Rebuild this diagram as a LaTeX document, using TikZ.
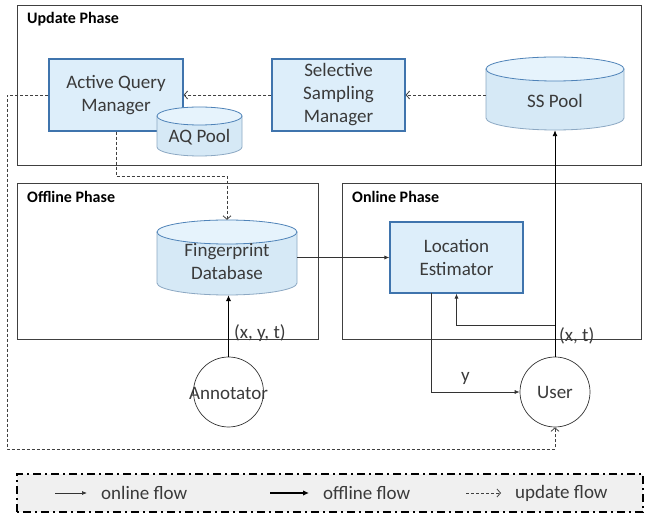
\documentclass[tikz,border=0pt]{standalone}
\usepackage{fontspec}
\setmainfont{Carlito}
\usetikzlibrary{arrows.meta}
\definecolor{boxfill}{HTML}{DDEEFA}
\definecolor{boxdraw}{HTML}{3F74AD}
\definecolor{cylfill}{HTML}{D6E9F6}
\definecolor{cyltop}{HTML}{E6F3FC}
\definecolor{cyldraw}{HTML}{8CA8C3}
\definecolor{cylrim}{HTML}{4F83B8}
\definecolor{txt}{HTML}{3A3A3A}
\definecolor{legfill}{HTML}{F0F0F0}
\begin{document}
\begin{tikzpicture}[x=1pt,y=1pt,
  phase/.style={draw=black!75, line width=0.8pt, fill=white},
  ptitle/.style={anchor=west, inner sep=0pt, font=\fontsize{16}{18}\selectfont\bfseries},
  proc/.style={draw=boxdraw, line width=1.2pt, fill=boxfill, align=center, text=txt,
    font=\fontsize{19}{23}\selectfont, inner sep=0pt},
  lbl/.style={text=txt, font=\fontsize{19}{23}\selectfont, inner sep=0pt, align=center},
  actor/.style={circle, draw=black!80, line width=0.7pt, fill=white, minimum size=70pt, inner sep=0pt,
    text=txt, font=\fontsize{19}{23}\selectfont},
  ghost/.style={inner sep=0pt, draw=none},
  onl/.style={draw=black!80, line width=0.7pt, -{Latex[length=5pt,width=4pt]}},
  offl/.style={draw=black, line width=1.6pt, -{Latex[length=6pt,width=5.5pt]}},
  upd/.style={draw=black!75, line width=0.7pt, dash pattern=on 3pt off 2pt},
  updtip/.style={-{Straight Barb[length=3.5pt,width=8pt,line width=0.8pt]}},
  cylbody/.style={fill=cylfill, draw=cyldraw, line width=0.8pt},
  cyltopst/.style={fill=cyltop, draw=cylrim, line width=0.8pt}
]
\useasboundingbox (0,0) rectangle (645,514);

% phase boxes
\draw[phase] (17,349) rectangle (641,509);
\draw[phase] (17,175) rectangle (318,331);
\draw[phase] (342,175) rectangle (641,331);
\node[ptitle] (tupd) at (27,495) {Update Phase};
\node[ptitle] (toff) at (27,317) {Offline Phase};
\node[ptitle] (ton) at (352,317) {Online Phase};

% process boxes
\node[proc, minimum width=134pt, minimum height=72pt] (aqm) at (116,419) {Active Query\\Manager};
\node[proc, minimum width=133pt, minimum height=72pt] (ssm) at (338.5,419) {Selective\\Sampling\\Manager};
\node[proc, minimum width=133pt, minimum height=71pt] (le) at (456.5,256.5) {Location\\Estimator};

% AQ Pool cylinder
\fill[cylfill] (157,398) -- (157,367) arc[start angle=180,end angle=360,x radius=42.5,y radius=9] -- (242,398) -- cycle;
\draw[cylbody, fill=none] (157,398) -- (157,367) arc[start angle=180,end angle=360,x radius=42.5,y radius=9] -- (242,398);
\draw[cyltopst] (199.5,398) ellipse[x radius=42.5,y radius=9];
\node[lbl] (aqpool) at (199.5,377) {AQ Pool};

% SS Pool cylinder
\fill[cylfill] (486,445) -- (486,396) arc[start angle=180,end angle=360,x radius=69,y radius=12] -- (624,445) -- cycle;
\draw[cylbody, fill=none] (486,445) -- (486,396) arc[start angle=180,end angle=360,x radius=69,y radius=12] -- (624,445);
\draw[cyltopst] (555,445) ellipse[x radius=69,y radius=12];
\node[ghost, minimum width=138pt, minimum height=73pt] (sspool) at (555,420.5) {};
\node[lbl] (sstext) at (555,413) {SS Pool};

% Fingerprint Database cylinder
\fill[cylfill] (157,282) -- (157,231) arc[start angle=180,end angle=360,x radius=70,y radius=12] -- (297,282) -- cycle;
\draw[cylbody, fill=none] (157,282) -- (157,231) arc[start angle=180,end angle=360,x radius=70,y radius=12] -- (297,282);
\draw[cyltopst] (227,282) ellipse[x radius=70,y radius=12];
\node[ghost, minimum width=140pt, minimum height=75pt] (db) at (227,256.5) {};
\node[lbl] (dbtext) at (227,252) {Fingerprint\\Database};

% actors
\node[actor] (ann) at (228.5,122) {};
\node[lbl] (anntext) at (228.5,121) {Annotator};
\node[actor] (user) at (555,122) {User};

% coordinates
\coordinate (t1) at (116,338);
\coordinate (l1) at (7,419);
\coordinate (l2) at (7,65);
\coordinate (br) at (555,189);
\coordinate (leout) at (431,221);

% update flow
\draw[upd, updtip] (sspool.west |- ssm.east) -- (ssm.east);
\draw[upd, updtip] (ssm.west) -- (aqm.east);
\draw[upd, updtip] (aqm.south) -- (t1) -| (db.north);
\draw[upd, updtip] (aqm.west) -- (l1) -- (l2) -| (user.south);

% online flow
\draw[onl] (db.east |- le.west) -- (le.west);
\draw[onl] (br) -| (le.south);
\draw[onl] (leout) |- (user.west);
\node[lbl, anchor=west] (ylbl) at (461,136) {y};

% offline / user to pool
\draw[offl] (ann.north) -- (ann.north |- db.south);
\draw[draw=black, line width=0.9pt, -{Latex[length=6pt,width=5pt]}] (user.north) -- (sspool.south);
\node[lbl, anchor=west] (xyt) at (234,181) {(x, y, t)};
\node[lbl, anchor=west] (xt) at (559,178) {(x, t)};

% legend
\draw[fill=legfill, draw=black, line width=2pt, dash pattern=on 8pt off 4pt on 2pt off 4pt] (17,2) rectangle (643,40);
\coordinate (a1s) at (55,21); \coordinate (a1e) at (87,21);
\coordinate (a2s) at (270,21); \coordinate (a2e) at (309,21);
\coordinate (a3s) at (466,21); \coordinate (a3e) at (501,21);
\draw[onl] (a1s) -- (a1e);
\draw[offl] (a2s) -- (a2e);
\draw[upd, updtip] (a3s) -- (a3e);
\node[lbl, anchor=west] (lg1) at (101,21) {online flow};
\node[lbl, anchor=west] (lg2) at (323,21) {offline flow};
\node[lbl, anchor=west] (lg3) at (515,21) {update flow};
\end{tikzpicture}
\end{document}
